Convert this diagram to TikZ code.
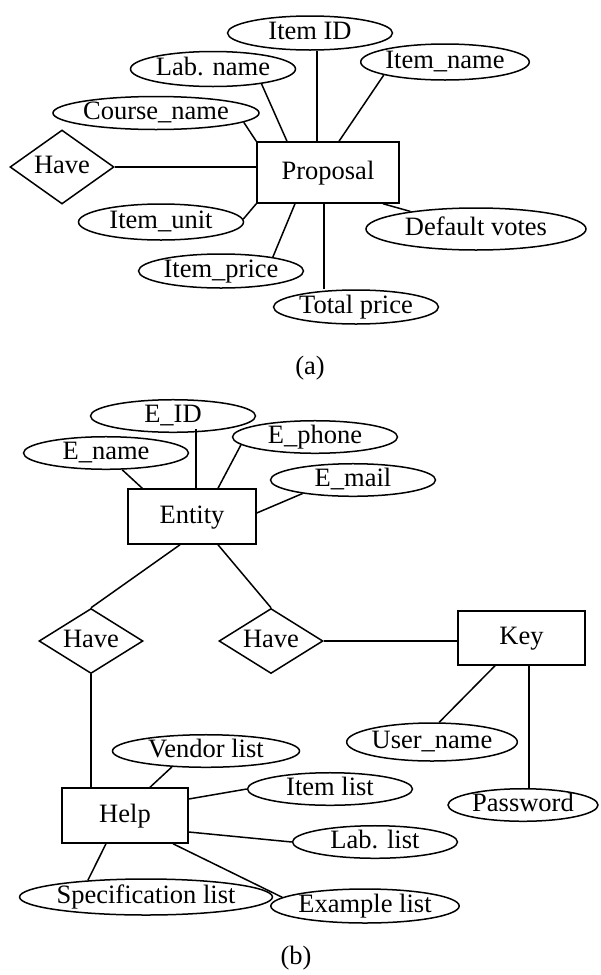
\documentclass[tikz,border=0pt]{standalone}
\usepackage{fontspec}
\setmainfont{Liberation Serif}
\usetikzlibrary{shapes.geometric}
\tikzset{
  attr/.style={draw, ellipse, inner sep=0pt, minimum width=165pt, minimum height=34pt},
  ent/.style={draw, rectangle, inner sep=0pt},
  rel/.style={draw, diamond, aspect=1.6, inner sep=0pt, minimum width=104pt},
}
\begin{document}
\begin{tikzpicture}[x=1pt, y=-1pt, line width=1.5pt,
    every node/.style={font=\fontsize{26.5}{30}\selectfont, text height=18pt, text depth=5pt}]
    \useasboundingbox (0,0) rectangle (601,975);
    % (a)
    \node[ent, minimum width=142pt, minimum height=61pt] (prop) at (328,172.5) {Proposal};
    \node[attr] (itemid) at (310,33) {Item ID};
    \node[attr, minimum height=35pt] (labname) at (213,69) {Lab. name};
    \node[attr, minimum height=36pt] (itemname) at (445,62) {Item\_name};
    \node[attr, minimum width=174pt, minimum height=33pt] (course) at (156,113) {Course\_name};
    \node[rel, minimum height=74pt] (have) at (62,167) {Have};
    \node[attr, minimum height=36pt] (itemunit) at (161,222) {Item\_unit};
    \node[attr] (itemprice) at (221,271) {Item\_price};
    \node[attr] (totalprice) at (356,307) {Total price};
    \node[attr, minimum width=220pt, minimum height=42pt] (votes) at (476,229) {Default votes};
    \node (capa) at (310,368) {(a)};
    \draw ([xshift=7pt]itemid.south) -- ([xshift=-11pt]prop.north);
    \draw (labname.-17) -- ([xshift=-41pt]prop.north);
    \draw (itemname.-168) -- ([xshift=11pt]prop.north);
    \draw (course.-6) -- (prop.north west);
    \draw (have.east) -- (have.east -| prop.west);
    \draw (itemunit.2) -- (prop.south west);
    \draw (itemprice.15) -- ([xshift=-33pt]prop.south);
    \draw ([xshift=-4pt]prop.south) -- ([xshift=-32pt]totalprice.north);
    \draw ([xshift=55pt]prop.south) -- (votes.165);
    % (b)
    \node[ent, minimum width=128pt, minimum height=55pt] (entity) at (192,516.5) {Entity};
    \node[attr, minimum height=32pt] (eid) at (173,416) {E\_ID};
    \node[attr, minimum height=32pt] (ename) at (106,453) {E\_name};
    \node[attr, minimum height=32pt] (ephone) at (315,437) {E\_phone};
    \node[attr, minimum height=32pt] (email) at (353,480) {E\_mail};
    \node[rel, minimum height=65pt] (haveL) at (91,641) {Have};
    \node[rel, minimum height=65pt] (haveR) at (271,641) {Have};
    \node[ent, minimum width=127pt, minimum height=54pt] (key) at (521.5,638) {Key};
    \node[attr, minimum height=38pt] (user) at (432,742) {User\_name};
    \node[attr, minimum width=150pt, minimum height=32pt] (pass) at (523,805) {Password};
    \node[ent, minimum width=126pt, minimum height=55pt] (help) at (125,815.5) {Help};
    \node[attr, minimum width=187pt, minimum height=32pt] (vendor) at (206,751) {Vendor list};
    \node[attr, minimum height=32pt] (itemlist) at (330,789) {Item list};
    \node[attr, minimum height=32pt] (lablist) at (375,842) {Lab. list};
    \node[attr] (exlist) at (365,906) {Example list};
    \node[attr, minimum width=220pt, minimum height=36pt] (speclist) at (146,897) {Specification list};
    \node (capb) at (296,958) {(b)};
    \draw ([shift={(23pt,4pt)}]eid.south) -- ([xshift=4pt]entity.north);
    \draw (ename.-46) -- ([xshift=15pt]entity.north west);
    \draw (ephone.-174) -- ([xshift=26pt]entity.north);
    \draw ([yshift=3.5pt]entity.east) -- (email.-165);
    \draw ([xshift=-12pt]entity.south) -- (haveL.north);
    \draw ([xshift=26pt]entity.south) -- (haveR.north);
    \draw (haveR.east) -- (haveR.east -| key.west);
    \draw (haveL.south) -- (haveL.south |- help.north);
    \draw ([xshift=-26.5pt]key.south) -- (user.70);
    \draw ([xshift=7.5pt]key.south) -- ([xshift=6pt]pass.north);
    \draw ([xshift=25pt]help.north) -- (vendor.-155);
    \draw ([yshift=16.5pt]help.east) -- (itemlist.west);
    \draw ([yshift=-16.5pt]help.east) -- (lablist.west);
    \draw ([xshift=48pt]help.south) -- (exlist.174);
    \draw ([xshift=-19pt]help.south) -- (speclist.164);
\end{tikzpicture}
\end{document}
